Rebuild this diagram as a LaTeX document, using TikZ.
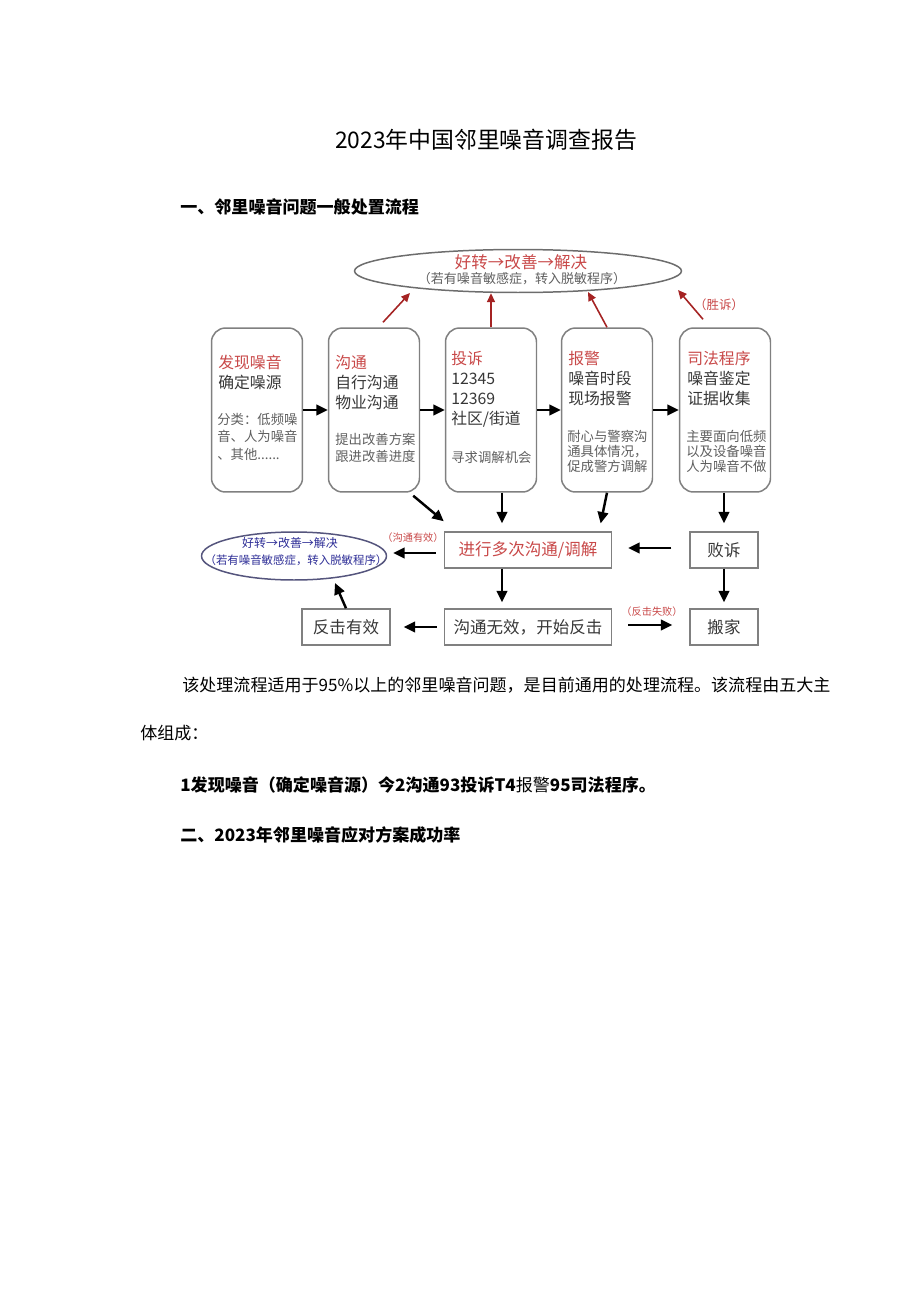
\documentclass[tikz,border=0pt]{standalone}
\usepackage{fontspec}
\setmainfont{Noto Sans CJK SC}
\usepackage{xcolor}
\usepackage{tikz}
\usetikzlibrary{shapes.geometric, arrows.meta, positioning, calc}
\definecolor{myred}{RGB}{200,72,72}
\definecolor{arrred}{RGB}{165,35,35}
\definecolor{mydark}{RGB}{55,55,55}
\definecolor{mygray}{RGB}{95,95,95}
\definecolor{edgegray}{RGB}{128,128,128}
\definecolor{myblue}{RGB}{45,45,150}
\definecolor{ovalblue}{RGB}{85,85,125}
\tikzset{
  stepcard/.style={rectangle, draw=edgegray, rounded corners=8pt, line width=0.85pt,
    minimum width=1.82cm, minimum height=3.28cm, inner sep=0pt},
  flatbox/.style={rectangle, draw=edgegray, line width=0.85pt, inner sep=0pt,
    minimum height=0.72cm, text=mydark, font=\fontsize{9.4pt}{11pt}\selectfont},
  cardtxt/.style={anchor=north west, inner sep=0pt, align=left, text=mydark,
    font=\fontsize{9pt}{11.4pt}\selectfont},
  cardnote/.style={anchor=north west, inner sep=0pt, align=left, text=mygray,
    font=\fontsize{7.6pt}{9.8pt}\selectfont},
  arrow/.style={-{Triangle[length=6.5pt,width=6pt]}, line width=1.4pt, color=black},
  redarrow/.style={-{Triangle[length=5pt,width=4.5pt]}, line width=0.9pt, color=arrred},
  tag/.style={inner sep=0pt, text=myred, font=\fontsize{5.8pt}{7pt}\selectfont},
  bodyline/.style={anchor=west, inner sep=0pt, text=black, font=\fontsize{9.7pt}{12pt}\selectfont}
}
\begin{document}
\begin{tikzpicture}[x=0.02cm, y=-0.02cm]
  \useasboundingbox (0,0) rectangle (920,1301);

  % Title and first heading
  \node[inner sep=0pt, font=\fontsize{13pt}{15pt}\selectfont] (title) at (486,140) {2023年中国邻里噪音调查报告};
  \node[bodyline, font=\bfseries\fontsize{9.7pt}{12pt}\selectfont] (headA) at (180,207) {一、邻里噪音问题一般处置流程};

  % Top goal ellipse
  \node[ellipse, draw=edgegray!85!black, line width=0.85pt, minimum width=6.54cm, minimum height=0.86cm, inner sep=0pt] (goal) at (518,271) {};
  \node[inner sep=0pt, text=myred, font=\fontsize{9.4pt}{11pt}\selectfont] (goalA) at (521,262) {好转→改善→解决};
  \node[inner sep=0pt, text=mygray, font=\fontsize{7.4pt}{9pt}\selectfont] (goalB) at (522,279) {（若有噪音敏感症，转入脱敏程序）};

  % Five step cards
  \node[stepcard] (find) at (257,410) {};
  \node[stepcard] (talk) at (374,410) {};
  \node[stepcard] (plaint) at (491,410) {};
  \node[stepcard] (police) at (607,410) {};
  \node[stepcard] (court) at (725,410) {};

  \node[cardtxt] (findA) at (218,355) {\textcolor{myred}{发现噪音}\\确定噪源};
  \node[cardnote] (findB) at (217,413) {分类：低频噪\\音、人为噪音\\、其他......};
  \node[cardtxt] (talkA) at (335,355) {\textcolor{myred}{沟通}\\自行沟通\\物业沟通};
  \node[cardnote] (talkB) at (335,433) {提出改善方案\\跟进改善进度};
  \node[cardtxt] (plaintA) at (451,351) {\textcolor{myred}{投诉}\\12345\\12369\\社区/街道};
  \node[cardnote] (plaintB) at (451,451) {寻求调解机会};
  \node[cardtxt] (policeA) at (568,351) {\textcolor{myred}{报警}\\噪音时段\\现场报警};
  \node[cardnote, font=\fontsize{7.6pt}{8.6pt}\selectfont] (policeB) at (567,430) {耐心与警察沟\\通具体情况，\\促成警方调解};
  \node[cardtxt] (courtA) at (687,351) {\textcolor{myred}{司法程序}\\噪音鉴定\\证据收集};
  \node[cardnote, font=\fontsize{7.6pt}{8.6pt}\selectfont] (courtB) at (686,430) {主要面向低频\\以及设备噪音\\人为噪音不做};

  \draw[arrow] (find) -- (talk);
  \draw[arrow] (talk) -- (plaint);
  \draw[arrow] (plaint) -- (police);
  \draw[arrow] (police) -- (court);

  % Red arrows up to the goal
  \coordinate (upA) at (410,293);
  \coordinate (upC) at (588,292);
  \coordinate (upD) at (678,290);
  \draw[redarrow] ([shift={(9,-5)}]talk.north) -- (upA);
  \draw[redarrow] (plaint.north) -- (plaint.north |- goal.south);
  \draw[redarrow] (police.north) -- (upC);
  \draw[redarrow] ([shift={(-22,-8)}]court.north) -- (upD);
  \node[inner sep=0pt, text=myred, font=\fontsize{7.1pt}{8pt}\selectfont] (won) at (719,305) {（胜诉）};

  % Lower flow
  \node[flatbox, minimum width=3.34cm, text=myred] (mediate) at (528,550) {进行多次沟通/调解};
  \node[flatbox, minimum width=1.36cm] (lose) at (724,550) {败诉};
  \node[flatbox, minimum width=3.34cm] (fail) at (528,627) {沟通无效，开始反击};
  \node[flatbox, minimum width=1.36cm] (move) at (724,627) {搬家};
  \node[flatbox, minimum width=1.76cm] (win) at (346,627) {反击有效};

  \node[ellipse, draw=ovalblue, line width=0.85pt, minimum width=3.7cm, minimum height=0.96cm, inner sep=0pt] (oval) at (294,556) {};
  \node[inner sep=0pt, text=myblue, font=\fontsize{6.8pt}{8pt}\selectfont] (ovalA) at (290,543) {好转→改善→解决};
  \node[inner sep=0pt, text=myblue, font=\fontsize{6.5pt}{8pt}\selectfont] (ovalB) at (296,560) {（若有噪音敏感症，转入脱敏程序）};

  \draw[arrow] ([shift={(-7,3)}]talk.south east) -- ([shift={(0,-10)}]mediate.north west);
  \draw[arrow, shorten >=0.16cm] ([shift={(11,0)}]plaint.south) -- ([shift={(11,0)}]plaint.south |- mediate.north);
  \draw[arrow, shorten >=0.16cm] (police.south) -- ([shift={(71,0)}]mediate.north);
  \draw[arrow, shorten >=0.16cm] (court.south -| lose) -- (lose.north);
  \draw[arrow, shorten <=0.36cm, shorten >=0.32cm] ([shift={(0,-2)}]lose.west) -- ([shift={(0,-2)}]lose.west -| mediate.east);
  \draw[arrow, shorten >=0.12cm] ([shift={(-26,0)}]mediate.south) -- ([shift={(-26,0)}]fail.north);
  \draw[arrow, shorten >=0.12cm] (lose) -- (move);
  \draw[arrow, shorten <=0.32cm, shorten >=0.34cm] ([shift={(0,-2)}]fail.east) -- ([shift={(0,-2)}]fail.east -| move.west);
  \draw[arrow, shorten <=0.14cm, shorten >=0.26cm] (fail.west) -- (fail.west -| win.east);
  \draw[arrow, shorten <=0.16cm, shorten >=0.12cm] ([shift={(0,3)}]mediate.west) -- ([shift={(0,-3)}]oval.east);
  \coordinate (upW) at (335,583);
  \draw[arrow] (win.north) -- (upW);

  \node[tag] (okTag) at (413,538) {（沟通有效）};
  \node[tag] (failTag) at (652,612) {（反击失败）};

  % Text below the chart
  \node[bodyline] (paraA) at (182,685) {该处理流程适用于95\%以上的邻里噪音问题，是目前通用的处理流程。该流程由五大主};
  \node[bodyline] (paraB) at (140,733) {体组成：};
  \node[bodyline, font=\bfseries\fontsize{9.7pt}{12pt}\selectfont] (list) at (180,785) {1发现噪音（确定噪音源）今2沟通93投诉T4{\mdseries 报警}95司法程序。};
  \node[bodyline, font=\bfseries\fontsize{9.7pt}{12pt}\selectfont] (headB) at (180,835) {二、2023年邻里噪音应对方案成功率};
\end{tikzpicture}
\end{document}
